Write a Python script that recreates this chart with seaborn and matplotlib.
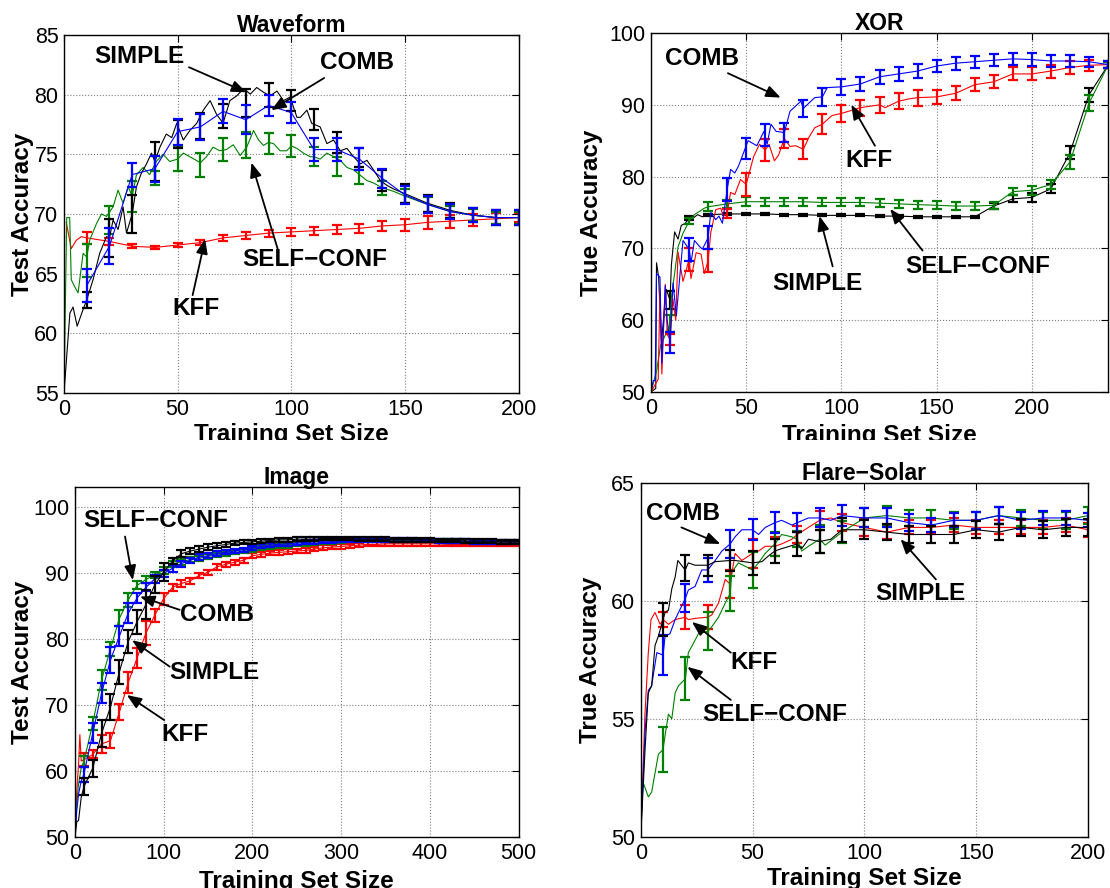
import numpy as np
import matplotlib
matplotlib.use("Agg")
import matplotlib.pyplot as plt
import seaborn as sns
from matplotlib.transforms import Bbox, TransformedBbox

# ---------------- Waveform ----------------
wf_x = np.arange(10, 201, 10)
wf_simple_mean = [62.8, 68.0, 70.0, 74.4, 76.7, 77.4, 78.2, 79.3, 80.0, 79.5, 77.9, 76.0, 74.7, 72.8, 71.7, 70.9, 70.3, 69.9, 69.7, 69.7]
wf_simple_err = [0.7, 1.6, 1.6, 1.6, 1.2, 1.1, 1.0, 1.2, 1.0, 0.9, 0.9, 0.9, 0.8, 0.9, 0.8, 0.7, 0.6, 0.6, 0.6, 0.6]
wf_comb_mean = [64.0, 67.3, 73.3, 73.8, 76.9, 77.3, 78.6, 77.9, 79.1, 78.5, 75.4, 75.4, 74.6, 73.0, 71.6, 70.8, 70.2, 69.9, 69.7, 69.7]
wf_comb_err = [1.4, 1.5, 1.0, 1.1, 1.1, 1.1, 1.0, 1.2, 0.9, 0.9, 1.0, 1.0, 0.9, 0.8, 0.75, 0.7, 0.6, 0.6, 0.6, 0.6]
wf_self_mean = [66.1, 69.5, 71.5, 73.0, 74.6, 74.1, 75.4, 75.8, 75.9, 75.7, 74.8, 74.0, 73.2, 72.2, 71.5, 70.8, 70.2, 69.9, 69.7, 69.7]
wf_self_err = [1.4, 1.2, 1.3, 0.6, 1.0, 1.0, 1.0, 1.1, 0.9, 0.9, 0.8, 0.8, 0.7, 0.6, 0.6, 0.6, 0.5, 0.5, 0.5, 0.5]
wf_kff_mean = [68.0, 67.7, 67.3, 67.2, 67.4, 67.6, 68.0, 68.2, 68.4, 68.5, 68.6, 68.7, 68.8, 69.0, 69.1, 69.3, 69.4, 69.5, 69.6, 69.7]
wf_kff_err = [0.5, 0.3, 0.15, 0.1, 0.15, 0.2, 0.25, 0.3, 0.3, 0.35, 0.35, 0.4, 0.4, 0.45, 0.5, 0.55, 0.55, 0.5, 0.45, 0.4]

wf_simple_dx = [0, 2.6, 4, 5.8, 8.4, 10, 12.8, 15.7, 18.7, 20, 21.6, 23.8, 26, 27.5, 30, 31.9, 34, 36.3, 38.5, 40,
                42.2, 45, 47.4, 49.6, 52.5, 55.4, 58.4, 61.3, 64.3, 67, 70, 73, 76, 79, 82, 84.8, 87.8, 90.7, 93.7,
                96.6, 99.5, 102.5, 104, 106.9, 109, 112.7, 115.7, 118.6, 121.6, 124.5, 127.4, 130.4, 133.3, 136.2,
                139.2, 142.1, 145]
wf_simple_dy = [55, 61.7, 62.2, 60.6, 62.0, 62.8, 64.5, 66.7, 68.1, 68.0, 69.5, 68.7, 70.6, 68.4, 70.0, 72.3, 73.4,
                74.2, 75.1, 74.4, 75.6, 76.7, 76.4, 77.6, 76.2, 77.0, 77.6, 78.7, 79.5, 78.4, 77.6, 79.5, 79.9, 80.5,
                80.05, 80.6, 80.2, 79.9, 80.3, 79.5, 79.8, 78.1, 78.1, 78.7, 77.6, 77.3, 75.9, 76.2, 75.3, 75.5,
                74.8, 74.2, 74.5, 73.7, 72.8, 72.4, 72.1]
wf_self_dx = [0, 1.2, 2.5, 3.2, 4.7, 6.2, 8.4, 10, 11.3, 14.3, 16.5, 18.7, 21.6, 23.8, 26, 28.2, 30, 31.9, 34.8,
              37.7, 40.6, 43.6, 46.5, 50, 52.5, 55.4, 60, 62.7, 65.6, 68.5, 71.5, 74.5, 77.5, 80.4, 83.4, 85.6,
              87.8, 90, 92.2, 95.1, 98, 100, 102.5, 105.4, 108.3, 110, 112.7, 115.7, 118.6, 121.6, 124.5, 127.4,
              130, 133.3, 136.2, 140, 145]
wf_self_dy = [55, 69.7, 69.7, 64.5, 63.9, 63.4, 66.7, 66.4, 67.8, 69.2, 70.0, 69.8, 70.6, 72.0, 70.9, 72.3, 71.5,
              73.3, 73.9, 73.3, 74.4, 75.0, 74.4, 74.6, 75.1, 74.8, 74.3, 74.8, 75.6, 75.3, 75.4, 75.8, 74.9, 75.6,
              77.0, 76.2, 75.75, 76.0, 75.9, 75.3, 75.3, 75.7, 75.5, 75.1, 74.8, 74.8, 74.6, 75.1, 74.8, 74.5,
              73.9, 73.7, 73.3, 72.8, 72.6, 72.2, 71.9]
wf_kff_dx = [1, 3.2, 5.4, 7.6]
wf_kff_dy = [69.3, 67.1, 67.8, 68.1]
wf_comb_dx = []
wf_comb_dy = []

# ---------------- XOR ----------------
xor_x = np.arange(10, 241, 10)
xor_comb_mean = [56.9, 69.9, 71.5, 78.2, 83.9, 85.8, 86.1, 89.5, 91.1, 92.5, 92.9, 93.9, 94.3, 94.7, 95.4, 95.8,
                 96.0, 96.2, 96.4, 96.3, 96.1, 96.1, 96.0, 95.6]
xor_comb_err = [1.5, 1.6, 1.6, 1.6, 1.5, 1.5, 1.3, 1.2, 1.2, 1.1, 1.0, 1.0, 0.95, 0.95, 0.9, 0.9, 0.85, 0.85,
                0.85, 0.85, 0.85, 0.85, 0.7, 0.5]
xor_kff_mean = [57.3, 68.5, 68.3, 74.9, 78.9, 83.7, 85.3, 83.8, 87.3, 88.8, 89.6, 90.0, 90.5, 91.0, 91.1, 91.6,
                92.8, 93.2, 94.3, 94.3, 94.7, 95.2, 95.5, 95.6]
xor_kff_err = [0.8, 1.6, 1.6, 0.6, 1.6, 1.5, 1.3, 1.4, 1.4, 1.2, 1.1, 1.1, 1.1, 1.1, 1.0, 1.0, 0.9, 0.9, 0.9,
               0.9, 0.9, 0.85, 0.8, 0.5]
xor_self_mean = [59.5, 73.8, 75.8, 76.2, 76.5, 76.5, 76.5, 76.5, 76.4, 76.4, 76.4, 76.3, 76.2, 76.1, 76.0, 75.9,
                 75.9, 76.0, 77.9, 78.1, 78.9, 82.0, 90.2, 95.5]
xor_self_err = [1.2, 0.4, 0.6, 0.6, 0.6, 0.55, 0.55, 0.55, 0.55, 0.55, 0.55, 0.55, 0.55, 0.55, 0.55, 0.55, 0.55,
                0.5, 0.5, 0.6, 0.6, 1.0, 1.1, 0.4]
xor_simple_mean = [62.8, 74.2, 74.7, 74.8, 74.8, 74.8, 74.7, 74.7, 74.6, 74.6, 74.6, 74.5, 74.5, 74.4, 74.4, 74.4,
                   74.4, 75.9, 76.9, 77.1, 78.3, 83.3, 91.4, 95.5]
xor_simple_err = [1.2, 0.3, 0.15, 0.15, 0.15, 0.15, 0.15, 0.15, 0.15, 0.15, 0.15, 0.15, 0.15, 0.15, 0.15, 0.15,
                  0.15, 0.4, 0.5, 0.6, 0.6, 0.9, 1.0, 0.4]

xor_comb_dx = [0, 1.2, 2.2, 2.9, 4.7, 5.7, 7.5, 8.5, 10, 11.6, 13.3, 16.8, 20, 21, 22.8, 25.4, 27, 30, 31.4, 34,
               35.7, 37.5, 40, 41.8, 44, 46, 49, 51, 55.6, 59.3, 61, 63, 65.7, 68.5, 70, 73, 78.7, 80, 86, 90, 92.6]
xor_comb_dy = [50, 51.6, 51.6, 66.5, 66.0, 54.0, 64.8, 60.0, 56.9, 65.2, 60.6, 71.1, 69.9, 68.0, 71.1, 70.3, 69.9,
               71.5, 75.0, 74.0, 74.5, 73.5, 78.2, 81.0, 80.5, 81.5, 83.6, 85.0, 84.3, 86.3, 84.5, 87.3, 86.3, 86.2,
               86.1, 89.1, 90.5, 89.5, 91.0, 91.1, 92.4]
xor_kff_dx = [0, 3.8, 4.7, 5.7, 7.5, 8.5, 10, 11.5, 13, 14.2, 16.8, 18.5, 20, 21, 23.7, 26.3, 28, 30, 31.4, 34,
              36.6, 38, 40, 41.8, 44, 47, 50, 53.9, 57, 60, 62, 64.8, 67, 70, 73, 76, 80, 83, 86, 90, 95, 100, 105,
              110, 115, 120, 123, 130, 135, 140]
xor_kff_dy = [50, 51.8, 64.3, 52.5, 65.0, 58.0, 57.3, 63.0, 60.0, 69.5, 65.4, 67.0, 68.5, 65.8, 69.4, 69.2, 66.5,
              68.3, 72.2, 75.4, 75.6, 74.5, 74.9, 77.8, 77.5, 79.6, 78.9, 82.8, 84.5, 83.7, 84.5, 82.2, 83.0, 85.3,
              84.2, 84.3, 83.8, 85.5, 86.8, 87.3, 88.5, 88.8, 89.2, 89.6, 89.8, 90.0, 89.6, 90.5, 90.8, 91.0]
xor_self_dx = [0, 3, 5, 7.3, 10, 10.7, 12.4, 14.2, 16.8, 20, 22.8, 28, 30, 35, 40]
xor_self_dy = [50, 53.0, 56.5, 57.8, 59.5, 63.2, 66.5, 70.2, 72.1, 73.8, 74.7, 75.6, 75.8, 76.0, 76.2]
xor_simple_dx = [0, 2.5, 2.9, 4, 5.5, 8, 10, 10.7, 12.4, 14.2, 15.9, 18, 20, 21, 24.5, 27, 30]
xor_simple_dy = [50, 50.5, 68.0, 66.0, 57.0, 64.3, 62.8, 67.7, 72.3, 71.3, 73.2, 73.5, 74.2, 74.0, 74.7, 74.4, 74.7]

# ---------------- Image ----------------
img_x = np.arange(10, 501, 10)
img_kff_mean = [61.7, 62.5, 64.1, 64.6, 68.9, 73.4, 77.1, 80.9, 83.6, 86.1,
                87.8, 88.4, 88.8, 89.6, 90.1, 90.9, 91.3, 91.6, 91.9, 92.6,
                92.8, 93.0, 93.1, 93.2, 93.3, 93.4, 93.6, 93.8, 93.9, 94.0,
                94.1, 94.2, 94.3, 94.3, 94.4, 94.4, 94.4, 94.4, 94.4, 94.4,
                94.4, 94.3, 94.3, 94.3, 94.3, 94.4, 94.4, 94.4, 94.4, 94.4]
img_kff_err = [1.0, 0.6, 1.4, 1.1, 1.2, 1.6, 1.5, 1.8, 1.0, 0.9,
               0.5, 0.5, 0.45, 0.4, 0.4, 0.4, 0.4, 0.4, 0.4, 0.4,
               0.35, 0.35, 0.35, 0.35, 0.35, 0.35, 0.35, 0.35, 0.35, 0.35,
               0.3, 0.3, 0.3, 0.3, 0.3, 0.3, 0.3, 0.3, 0.3, 0.3,
               0.3, 0.3, 0.3, 0.3, 0.3, 0.3, 0.3, 0.3, 0.3, 0.3]
img_comb_mean = [59.5, 65.7, 71.8, 76.8, 80.4, 83.9, 86.2, 87.8, 89.1, 89.9,
                 90.7, 91.4, 91.9, 92.4, 92.6, 92.9, 93.1, 93.3, 93.5, 93.8,
                 94.0, 94.2, 94.3, 94.4, 94.5, 94.6, 94.7, 94.8, 94.8, 94.9,
                 94.9, 94.9, 95.0, 95.0, 95.0, 95.0, 95.0, 95.0, 94.9, 94.9,
                 94.8, 94.8, 94.8, 94.8, 94.7, 94.7, 94.7, 94.7, 94.7, 94.7]
img_comb_err = [1.1, 1.5, 1.5, 2.0, 1.5, 1.5, 0.8, 0.6, 0.6, 0.55,
                0.5, 0.45, 0.4, 0.4, 0.35, 0.35, 0.3, 0.3, 0.3, 0.3,
                0.3, 0.3, 0.3, 0.3, 0.3, 0.3, 0.3, 0.3, 0.3, 0.3,
                0.3, 0.3, 0.3, 0.3, 0.3, 0.3, 0.3, 0.3, 0.3, 0.3,
                0.3, 0.3, 0.3, 0.3, 0.3, 0.3, 0.3, 0.3, 0.3, 0.3]
img_self_mean = [61.4, 67.2, 73.8, 78.5, 83.1, 85.9, 88.1, 89.0, 89.7, 90.4,
                 91.3, 91.7, 92.0, 92.2, 92.5, 92.7, 92.9, 93.1, 93.3, 93.5,
                 93.7, 93.9, 94.0, 94.1, 94.3, 94.4, 94.5, 94.6, 94.7, 94.8,
                 94.9, 94.9, 94.9, 94.9, 94.9, 94.9, 94.9, 94.9, 94.9, 94.9,
                 94.8, 94.8, 94.8, 94.8, 94.7, 94.7, 94.7, 94.7, 94.7, 94.7]
img_self_err = [0.8, 1.0, 1.5, 1.1, 1.2, 1.0, 0.6, 0.55, 0.5, 0.5,
                0.45, 0.45, 0.4, 0.4, 0.35, 0.35, 0.3, 0.3, 0.3, 0.3,
                0.3, 0.3, 0.3, 0.3, 0.3, 0.3, 0.3, 0.3, 0.3, 0.3,
                0.3, 0.3, 0.3, 0.3, 0.3, 0.3, 0.3, 0.3, 0.3, 0.3,
                0.3, 0.3, 0.3, 0.3, 0.3, 0.3, 0.3, 0.3, 0.3, 0.3]
img_simple_mean = [57.6, 60.4, 65.7, 69.7, 75.0, 79.6, 82.6, 85.2, 88.2, 90.1,
                   91.8, 92.9, 93.3, 93.6, 93.9, 94.1, 94.3, 94.5, 94.6, 94.7,
                   94.8, 94.9, 95.0, 95.0, 95.1, 95.1, 95.1, 95.2, 95.2, 95.2,
                   95.2, 95.1, 95.1, 95.1, 95.1, 95.0, 95.0, 95.0, 95.0, 95.0,
                   94.9, 94.9, 94.9, 94.8, 94.8, 94.8, 94.8, 94.7, 94.7, 94.7]
img_simple_err = [1.3, 1.3, 2.0, 2.0, 1.8, 1.8, 1.8, 2.2, 1.3, 1.4,
                  0.5, 0.5, 0.45, 0.4, 0.4, 0.35, 0.35, 0.35, 0.3, 0.3,
                  0.3, 0.3, 0.3, 0.3, 0.3, 0.3, 0.3, 0.3, 0.3, 0.3,
                  0.3, 0.3, 0.3, 0.3, 0.3, 0.3, 0.3, 0.3, 0.3, 0.3,
                  0.3, 0.3, 0.3, 0.3, 0.3, 0.3, 0.3, 0.3, 0.3, 0.3]

img_kff_dx = [0, 2, 4, 5.5, 7]
img_kff_dy = [50, 57, 61, 65.5, 61.5]
img_comb_dx = [0, 2, 4, 7]
img_comb_dy = [50, 54, 56.5, 58.5]
img_self_dx = [0, 2, 4, 7]
img_self_dy = [50, 55, 58, 60.5]
img_simple_dx = [0, 2, 4, 7]
img_simple_dy = [50, 52.3, 52.5, 56]

# ---------------- Flare-Solar ----------------
fl_x = np.arange(10, 201, 10)
fl_comb_mean = [57.7, 60.1, 61.3, 62.4, 63.0, 63.3, 63.3, 63.5, 63.6, 63.5, 63.5, 63.3, 63.2, 63.4, 63.4, 63.6, 63.4, 63.5, 63.5, 63.4]
fl_comb_err = [0.85, 0.6, 0.5, 0.6, 0.45, 0.45, 0.4, 0.4, 0.45, 0.4, 0.4, 0.35, 0.3, 0.3, 0.35, 0.35, 0.35, 0.3, 0.3, 0.3]
fl_kff_mean = [59.2, 59.3, 59.3, 60.7, 62.0, 62.3, 62.8, 63.4, 63.3, 63.1, 62.9, 63.1, 63.1, 63.2, 63.1, 63.1, 63.1, 63.1, 63.2, 63.0]
fl_kff_err = [0.3, 0.5, 0.5, 0.6, 0.6, 0.4, 0.35, 0.4, 0.35, 0.35, 0.3, 0.3, 0.3, 0.3, 0.3, 0.3, 0.3, 0.3, 0.3, 0.3]
fl_self_mean = [53.7, 56.7, 58.7, 60.3, 61.3, 62.4, 62.6, 62.6, 62.9, 63.5, 63.6, 63.5, 63.5, 63.4, 63.4, 63.6, 63.5, 63.4, 63.4, 63.6]
fl_self_err = [0.95, 0.9, 0.8, 0.75, 0.75, 0.5, 0.35, 0.6, 0.45, 0.4, 0.4, 0.35, 0.35, 0.35, 0.35, 0.35, 0.35, 0.35, 0.35, 0.35]
fl_simple_mean = [59.2, 61.4, 61.5, 61.7, 61.6, 62.1, 62.4, 62.5, 63.0, 63.0, 62.9, 62.8, 62.8, 62.8, 63.0, 62.9, 63.1, 63.0, 63.1, 63.1]
fl_simple_err = [0.7, 0.55, 0.45, 0.45, 0.5, 0.5, 0.5, 0.5, 0.5, 0.4, 0.35, 0.35, 0.35, 0.35, 0.35, 0.35, 0.35, 0.35, 0.35, 0.35]

fl_kff_dx = [0, 1.9, 3.4, 4.6, 6.4, 8.7, 10, 12.4, 15.4, 20, 21.3, 24.3, 30, 31.8, 34.8, 37.8, 40, 42.2, 45.2, 50,
             52.7, 55.7, 60, 63, 67.6, 70, 75, 80, 85, 90]
fl_kff_dy = [50, 55.2, 57.8, 59.2, 59.5, 59.0, 59.2, 59.0, 59.2, 59.3, 59.2, 59.25, 59.3, 59.4, 59.9, 60.9, 60.7,
             62.0, 61.7, 62.0, 62.1, 62.3, 62.3, 62.4, 62.6, 62.8, 63.1, 63.4, 63.5, 63.3]
fl_simple_dx = [0, 2, 3.4, 4.9, 6.4, 7.9, 10, 10.9, 12.4, 13.9, 15.4, 16.6, 19.9, 21.3, 24.3, 30, 33.3, 40, 42.2,
                50, 54.2, 57.2, 60, 63, 70, 72, 75, 80, 85, 90]
fl_simple_dy = [50, 53.8, 56.1, 56.4, 58.1, 58.5, 59.2, 59.5, 59.6, 60.5, 61.0, 61.7, 61.3, 61.6, 61.5, 61.5, 61.65,
                61.7, 61.7, 61.6, 61.65, 61.9, 62.1, 62.2, 62.4, 62.2, 62.6, 62.5, 62.6, 63.0]
fl_comb_dx = [0, 1.9, 3.4, 4.9, 7.2, 10, 10.9, 13.1, 15.4, 16.9, 20, 21.3, 24.3, 27.3, 30, 33.3, 36.3, 40, 42.2,
              45.2, 50, 52.7, 55.7, 60, 63, 67.6, 70, 75, 80, 85, 90]
fl_comb_dy = [50, 54.4, 56.2, 56.4, 57.8, 57.7, 58.5, 58.6, 59.2, 59.5, 60.1, 60.45, 60.6, 61.3, 61.3, 61.7, 62.1,
              62.4, 62.7, 63.0, 63.0, 62.8, 63.1, 63.3, 63.4, 63.2, 63.3, 63.5, 63.5, 63.4, 63.6]
fl_self_dx = [0, 0.7, 1.9, 3.4, 4.9, 6.4, 7.9, 10, 10.9, 12.4, 13.9, 15.4, 16.9, 20, 21.3, 23.6, 25.8, 30, 31.8,
              34.8, 37.8, 40, 40.7, 43.7, 50, 52.7, 55.7, 60, 63, 67.6, 70, 72, 75, 80, 82.5, 90]
fl_self_dy = [50, 52.4, 52.1, 51.7, 51.9, 52.7, 53.5, 53.7, 54.3, 55.2, 55.0, 56.1, 56.4, 56.7, 57.8, 58.2, 58.6,
              58.7, 58.9, 59.3, 59.9, 60.3, 61.2, 61.6, 61.3, 61.6, 62.0, 62.4, 62.8, 62.7, 62.6, 62.1, 62.3, 62.6,
              62.35, 62.9]

BLUE, RED, GREEN, BLACK = "#0000ff", "#ff0000", "#008000", "#000000"

sns.set_style("white")
plt.rcParams["font.family"] = ["Liberation Sans", "DejaVu Sans"]
plt.rcParams["text.color"] = "black"
plt.rcParams["axes.labelcolor"] = "black"
plt.rcParams["xtick.color"] = "black"
plt.rcParams["ytick.color"] = "black"


def draw_series(ax, dx, dy, bx, bm, be, color):
    dx = np.asarray(dx, float)
    bx = np.asarray(bx, float)
    bm = np.asarray(bm, float)
    keep = bx > dx.max() if len(dx) else np.ones(len(bx), bool)
    lx = np.concatenate([dx, bx[keep]])
    ly = np.concatenate([np.asarray(dy, float), bm[keep]])
    sns.lineplot(x=lx, y=ly, ax=ax, color=color, lw=0.8, estimator=None, sort=True)
    ax.errorbar(bx, bm, yerr=be, fmt="none", ecolor=color, elinewidth=1.6,
                capsize=3.6, capthick=1.6)


def style(ax, title, ylabel, xlim, ylim, xticks, yticks, ylab_x, xlab_y, clip_y=None):
    ax.set_xlim(*xlim)
    ax.set_ylim(*ylim)
    ax.set_xticks(xticks)
    ax.set_yticks(yticks)
    ax.grid(True, linestyle=":", color="#808080", lw=0.8)
    ax.tick_params(direction="in", length=5, width=0.8, top=True, right=True,
                   labelsize=15.5, pad=4, colors="black")
    for s in ax.spines.values():
        s.set_visible(True)
        s.set_color("black")
        s.set_linewidth(1.0)
    ax.set_title(title, fontsize=16.5, fontweight="bold", pad=2, color="black")
    ax.set_ylabel(ylabel, fontsize=17.5, fontweight="bold", color="black")
    ax.set_xlabel("Training Set Size", fontsize=17.5, fontweight="bold", color="black")
    ax.yaxis.set_label_coords(ylab_x, 0.5)
    ax.xaxis.set_label_coords(0.5, xlab_y)
    if clip_y is not None:
        box = TransformedBbox(Bbox([[0, clip_y], [1, 1]]), ax.figure.transFigure)
        ax.xaxis.label.set_clip_box(box)
        ax.xaxis.label.set_clip_on(True)


def note(ax, text, tpos, start, tip):
    ax.text(tpos[0], tpos[1], text, fontsize=17.5, fontweight="bold", color="black",
            ha="center", va="center", zorder=10)
    ax.annotate("", xy=tip, xytext=start,
                arrowprops=dict(arrowstyle="-|>,head_length=0.55,head_width=0.22",
                                color="black", lw=1.3, mutation_scale=16,
                                shrinkA=0, shrinkB=0), zorder=10)


W, H = 1110, 888
fig = plt.figure(figsize=(W / 100, H / 100), dpi=100)
fig.patch.set_facecolor("white")


def rect(l, r, t, b):
    return [l / W, 1 - b / H, (r - l) / W, (b - t) / H]


ax1 = fig.add_axes(rect(64, 518.5, 35, 393))
ax2 = fig.add_axes(rect(651, 1108, 33, 392))
ax3 = fig.add_axes(rect(75, 518.5, 487, 837))
ax4 = fig.add_axes(rect(640.7, 1088, 482.5, 837))

# Waveform
draw_series(ax1, wf_kff_dx, wf_kff_dy, wf_x, wf_kff_mean, wf_kff_err, RED)
draw_series(ax1, wf_self_dx, wf_self_dy, wf_x, wf_self_mean, wf_self_err, GREEN)
draw_series(ax1, wf_simple_dx, wf_simple_dy, wf_x, wf_simple_mean, wf_simple_err, BLACK)
draw_series(ax1, wf_comb_dx, wf_comb_dy, wf_x, wf_comb_mean, wf_comb_err, BLUE)
style(ax1, "Waveform", "Test Accuracy", (0, 200), (55, 85), [0, 50, 100, 150, 200],
      [55, 60, 65, 70, 75, 80, 85], -0.066, -0.084, clip_y=1 - 440 / H)
note(ax1, "SIMPLE", (33, 83.2), (55, 82.3), (80.2, 80.2))
note(ax1, "COMB", (129, 82.7), (114.5, 81.4), (91.2, 78.7))
note(ax1, "SELF\u2212CONF", (110.4, 66.2), (94.3, 66.9), (82.5, 74.3))
note(ax1, "KFF", (58.2, 62.1), (56.6, 63.2), (62.1, 67.9))

# XOR
draw_series(ax2, xor_simple_dx, xor_simple_dy, xor_x, xor_simple_mean, xor_simple_err, BLACK)
draw_series(ax2, xor_self_dx, xor_self_dy, xor_x, xor_self_mean, xor_self_err, GREEN)
draw_series(ax2, xor_kff_dx, xor_kff_dy, xor_x, xor_kff_mean, xor_kff_err, RED)
draw_series(ax2, xor_comb_dx, xor_comb_dy, xor_x, xor_comb_mean, xor_comb_err, BLUE)
style(ax2, "XOR", "True Accuracy", (0, 240), (50, 100), [0, 50, 100, 150, 200],
      [50, 60, 70, 80, 90, 100], -0.105, -0.089, clip_y=1 - 440 / H)
note(ax2, "COMB", (26.9, 96.4), (40.4, 94.4), (68.1, 91.0))
note(ax2, "KFF", (114.4, 82.3), (117.6, 84.3), (105.2, 90.0))
note(ax2, "SIMPLE", (87.4, 65.1), (95.4, 67.5), (88.5, 74.5))
note(ax2, "SELF\u2212CONF", (171.7, 67.5), (142.6, 69.7), (125.6, 75.5))

# Image
draw_series(ax3, img_kff_dx, img_kff_dy, img_x, img_kff_mean, img_kff_err, RED)
draw_series(ax3, img_self_dx, img_self_dy, img_x, img_self_mean, img_self_err, GREEN)
draw_series(ax3, img_comb_dx, img_comb_dy, img_x, img_comb_mean, img_comb_err, BLUE)
draw_series(ax3, img_simple_dx, img_simple_dy, img_x, img_simple_mean, img_simple_err, BLACK)
style(ax3, "Image", "Test Accuracy", (0, 500), (50, 103), [0, 100, 200, 300, 400, 500],
      [50, 60, 70, 80, 90, 100], -0.093, -0.094)
note(ax3, "SELF\u2212CONF", (90.6, 98.0), (56.4, 95.5), (65.2, 88.9))
note(ax3, "COMB", (159.8, 83.7), (118, 84.4), (73.3, 86.4))
note(ax3, "SIMPLE", (157, 74.9), (106.7, 75.8), (64.4, 79.8))
note(ax3, "KFF", (124, 65.5), (100.6, 67.7), (58.4, 71.5))

# Flare-Solar
draw_series(ax4, fl_kff_dx, fl_kff_dy, fl_x, fl_kff_mean, fl_kff_err, RED)
draw_series(ax4, fl_self_dx, fl_self_dy, fl_x, fl_self_mean, fl_self_err, GREEN)
draw_series(ax4, fl_comb_dx, fl_comb_dy, fl_x, fl_comb_mean, fl_comb_err, BLUE)
draw_series(ax4, fl_simple_dx, fl_simple_dy, fl_x, fl_simple_mean, fl_simple_err, BLACK)
style(ax4, "Flare\u2212Solar", "True Accuracy", (0, 200), (50, 65), [0, 50, 100, 150, 200],
      [50, 55, 60, 65], -0.086, -0.085)
note(ax4, "COMB", (18.7, 63.7), (18.2, 63.1), (35.6, 62.4))
note(ax4, "SIMPLE", (124.9, 60.3), (132, 60.9), (116.2, 62.6))
note(ax4, "KFF", (50.6, 57.4), (40.3, 57.8), (22.9, 59.1))
note(ax4, "SELF\u2212CONF", (60.1, 55.2), (40.3, 55.8), (20.9, 57.2))

fig.savefig("out.png", dpi=100, facecolor="white")
